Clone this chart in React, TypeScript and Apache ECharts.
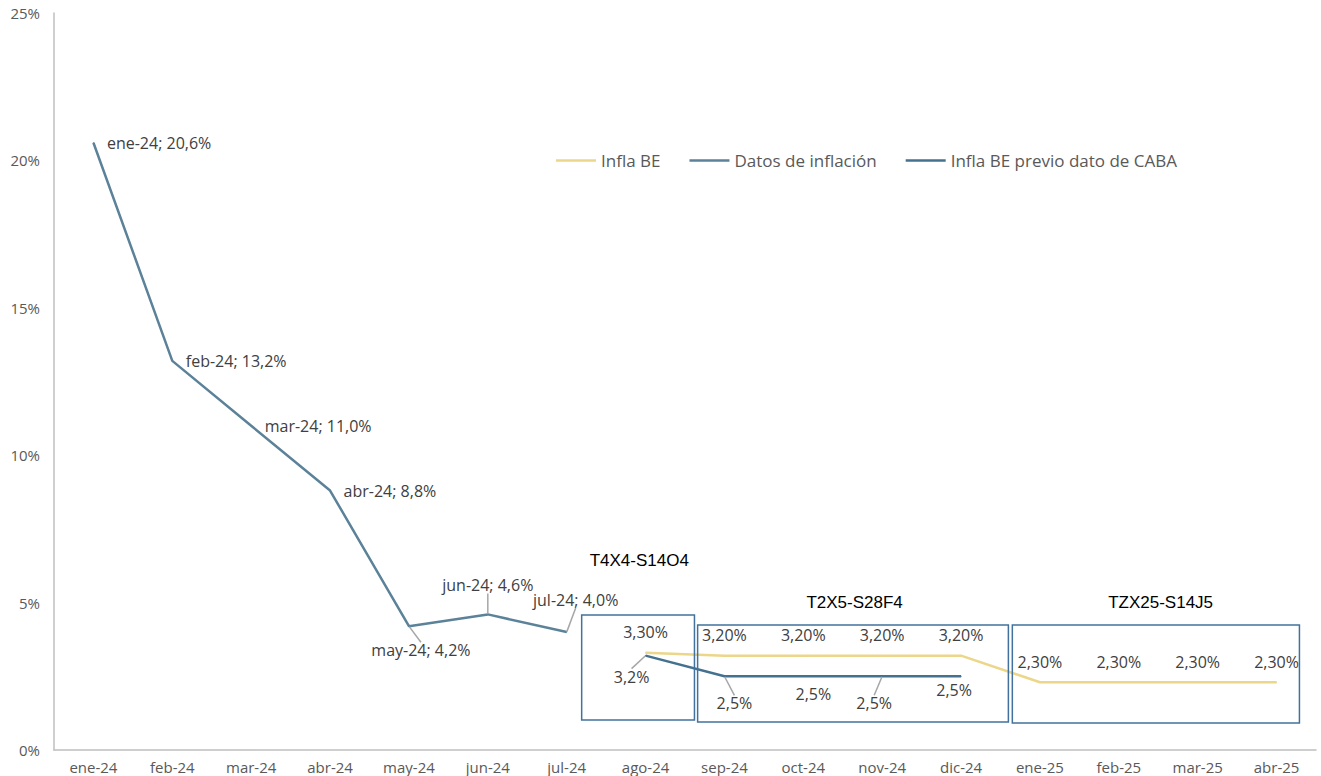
import React, { useEffect, useRef } from "react";
import * as echarts from "echarts";

const categories = [
  "ene-24", "feb-24", "mar-24", "abr-24", "may-24", "jun-24", "jul-24", "ago-24",
  "sep-24", "oct-24", "nov-24", "dic-24", "ene-25", "feb-25", "mar-25", "abr-25",
];
const datosInflacion = [20.6, 13.2, 11.0, 8.8, 4.2, 4.6, 4.0, null, null, null, null, null, null, null, null, null];
const inflaBEPrevio = [null, null, null, null, null, null, null, 3.2, 2.5, 2.5, 2.5, 2.5, null, null, null, null];
const inflaBE = [null, null, null, null, null, null, null, 3.3, 3.2, 3.2, 3.2, 3.2, 2.3, 2.3, 2.3, 2.3];
const yTicks = [0, 5, 10, 15, 20, 25];
const boxTitles = ["T4X4-S14O4", "T2X5-S28F4", "TZX25-S14J5"];

// label styling (offsets in px, relative to the point)
const datosOffsets: number[][] = [[0, 0], [0, 0], [0, 0], [0, 0], [12, 24], [0, -29], [9, -32]];
const datosRight = [true, true, true, true, false, false, false];
const datosLeader = [false, false, false, false, true, true, true];
const previoOffsets: Record<number, number[]> = { 7: [-14, 21], 8: [10, 27], 9: [10, 18], 10: [-8, 27], 11: [-7, 14] };
const previoLeader: Record<number, boolean> = { 7: true, 8: true, 9: false, 10: true, 11: false };

const FONT = '"Open Sans", Lato, sans-serif';
const TITLE_FONT = '"Liberation Sans", Arial, sans-serif';
const fmt1 = (v: number) => v.toFixed(1).replace(".", ",") + "%";
const fmt2 = (v: number) => v.toFixed(2).replace(".", ",") + "%";

export default function App() {
  const ref = useRef<HTMLDivElement>(null);
  useEffect(() => {
    document.body.style.margin = "0";
    if (!ref.current) return;
    const chart = echarts.init(ref.current, null, { renderer: "svg" });
    const leaderStyle = { color: "#a6a6a6", width: 1.5 };
    const datosData = datosInflacion.map((v, i) =>
      v == null
        ? null
        : {
            value: v,
            label: datosRight[i] ? { position: "right", distance: 13 } : { position: "inside" },
            labelLine: { show: datosLeader[i], lineStyle: leaderStyle },
          }
    );
    const previoData = inflaBEPrevio.map((v, i) =>
      v == null ? null : { value: v, labelLine: { show: !!previoLeader[i], lineStyle: leaderStyle } }
    );
    chart.setOption({
      animation: false,
      textStyle: { fontFamily: FONT },
      grid: { left: 54, right: 5, top: 13, bottom: 26, containLabel: false },
      legend: {
        data: ["Infla BE", "Datos de inflación", "Infla BE previo dato de CABA"],
        left: 551,
        top: 147,
        icon: "rect",
        itemWidth: 40,
        itemHeight: 2.5,
        itemGap: 29,
        textStyle: { fontSize: 17, color: "#595959", fontFamily: FONT },
      },
      xAxis: {
        type: "category",
        data: categories,
        boundaryGap: true,
        axisLine: { lineStyle: { color: "#bfbfbf", width: 1.5 } },
        axisTick: { show: false },
        axisLabel: { color: "#595959", fontSize: 15, margin: 9, interval: 0, fontFamily: FONT },
      },
      yAxis: {
        type: "value",
        min: yTicks[0],
        max: yTicks[yTicks.length - 1],
        interval: yTicks[1] - yTicks[0],
        axisLine: { show: true, lineStyle: { color: "#bfbfbf", width: 1.5 } },
        axisTick: { show: false },
        splitLine: { show: false },
        axisLabel: { formatter: "{value}%", color: "#595959", fontSize: 15, margin: 14, fontFamily: FONT },
      },
      series: [
        {
          name: "Infla BE",
          type: "line",
          data: inflaBE,
          symbol: "circle",
          symbolSize: 1,
          lineStyle: { color: "#ecd68a", width: 2.5 },
          itemStyle: { color: "#ecd68a" },
          label: {
            show: true,
            position: "top",
            distance: 12,
            formatter: (p: any) => fmt2(p.value),
            color: "#404040",
            fontSize: 16,
            fontFamily: FONT,
          },
          z: 3,
        },
        {
          name: "Datos de inflación",
          type: "line",
          data: datosData,
          symbol: "circle",
          symbolSize: 1,
          lineStyle: { color: "#5b8299", width: 2.5 },
          itemStyle: { color: "#5b8299" },
          label: {
            show: true,
            formatter: (p: any) => `${p.name}; ${fmt1(p.value)}`,
            color: "#404040",
            fontSize: 16,
            fontFamily: FONT,
          },
          labelLayout: (p: any) => {
            const o = datosOffsets[p.dataIndex] || [0, 0];
            return { dx: o[0], dy: o[1], hideOverlap: false };
          },
          z: 4,
        },
        {
          name: "Infla BE previo dato de CABA",
          type: "line",
          data: previoData,
          symbol: "circle",
          symbolSize: 1,
          lineStyle: { color: "#44718f", width: 2.5 },
          itemStyle: { color: "#44718f" },
          label: {
            show: true,
            position: "inside",
            formatter: (p: any) => fmt1(p.value),
            color: "#404040",
            fontSize: 16,
            fontFamily: FONT,
          },
          labelLayout: (p: any) => {
            const o = previoOffsets[p.dataIndex] || [0, 0];
            return { dx: o[0], dy: o[1], hideOverlap: false };
          },
          z: 4,
        },
      ],
    });

    // annotation boxes positioned from the axis scales
    const px = (idx: number, v: number) => chart.convertToPixel({ xAxisIndex: 0, yAxisIndex: 0 }, [idx, v]) as number[];
    const p0 = px(0, 0);
    const p1 = px(1, 5);
    const band = p1[0] - p0[0];
    const yPx = (v: number) => px(0, v)[1];
    const xPx = (idx: number, frac: number) => px(idx, 0)[0] + frac * band;
    const boxes = [
      { l: [7, -0.81], r: [7, 0.62], top: 4.58, bot: 1.02, title: [7, -0.08, 6.44] },
      { l: [8, -0.34], r: [11, 0.6], top: 4.24, bot: 0.95, title: [9, 0.65, 5.0] },
      { l: [12, -0.35], r: [15, 0.29], top: 4.24, bot: 0.92, title: [13, 0.53, 5.0] },
    ];
    const graphics: any[] = [];
    boxes.forEach((b, i) => {
      const x1 = xPx(b.l[0], b.l[1]);
      const x2 = xPx(b.r[0], b.r[1]);
      const y1 = yPx(b.top);
      const y2 = yPx(b.bot);
      graphics.push({
        type: "rect",
        shape: { x: x1, y: y1, width: x2 - x1, height: y2 - y1 },
        style: { fill: "none", stroke: "#41719c", lineWidth: 1.5 },
        z: 10,
      });
      graphics.push({
        type: "text",
        x: xPx(b.title[0], b.title[1]),
        y: yPx(b.title[2]),
        style: {
          text: boxTitles[i],
          align: "center",
          verticalAlign: "middle",
          fill: "#000000",
          fontSize: 17,
          fontFamily: TITLE_FONT,
        },
        z: 10,
      });
    });
    chart.setOption({ graphic: graphics });
    return () => chart.dispose();
  }, []);
  return <div ref={ref} style={{ width: 1321, height: 776 }} />;
}
